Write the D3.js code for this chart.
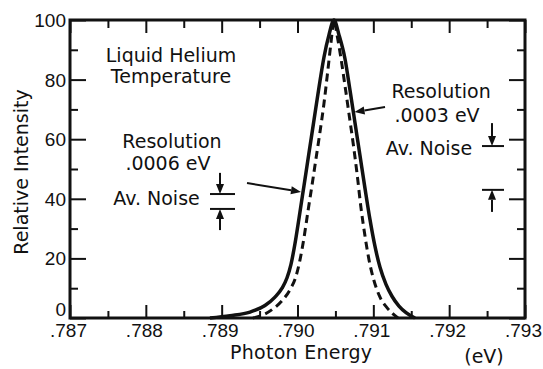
<!DOCTYPE html>
<html><head><meta charset="utf-8">
<script src="https://cdn.jsdelivr.net/npm/d3@7"></script>
<style>body{margin:0;background:#fff}</style>
</head><body>
<svg id="c" width="543" height="369"></svg>
<script>
// ---- data ----
const solidEnergy    = [.788846, .789110, .789374, .789571, .789703, .789796, .789862, .789914, .789967, .790020, .790086, .790152, .790218, .790284, .790349, .790415, .790481, .790547, .790626, .790692, .790758, .790824, .790890, .790956, .791022, .791088, .791167, .791246, .791338, .791431, .791549];
const solidIntensity = [0,       0.8,     2,       4.2,     7,       10,      13.5,    18,      25,      33.5,    44.5,    55.5,    66.5,    77.5,    87.5,    95,      100,     95,      87,      76.5,    65.5,    54.5,    43.5,    33,      24,      17,      11.3,    7.3,     4,       1.8,     0];
const dashedEnergy    = [.789413, .789532, .789664, .789796, .789901, .789980, .790033, .790086, .790139, .790191, .790244, .790297, .790349, .790402, .790442, .790481, .790521, .790574, .790626, .790679, .790732, .790785, .790837, .790890, .790943, .791009, .791088, .791180, .791259, .791325];
const dashedIntensity = [0,       0.9,     2.8,     5.8,     9.5,     14,      19.5,    27,      36,      44.5,    53.5,    62.5,    72,      83.5,    92.5,    100,     95,      87,      78,      68.5,    59,      48.5,    37,      27.5,    19.5,    12.5,    7,       3.5,     1.4,     0];

const xTicks = [.787, .788, .789, .790, .791, .792, .793];
const xTickLabels = [".787", ".788", ".789", ".790", ".791", ".792", ".793"];
const xMinorTicks = [.7875, .7885, .7895, .7905, .7915, .7925];
const yTicks = [0, 20, 40, 60, 80, 100];
const yTickLabels = ["0", "20", "40", "60", "80", "100"];
const yMinorTicks = [10, 30, 50, 70, 90];

const xTitle = "Photon Energy";
const xUnit = "(eV)";
const yTitle = "Relative Intensity";

// annotations in data units: [energy, intensity]
const labels = [
  {t: "Liquid Helium", e: .788332, v: 85.9},
  {t: "Temperature",   e: .788332, v: 78.9},
  {t: "Resolution",    e: .788345, v: 57.0},
  {t: ".0006 eV",      e: .788292, v: 49.7},
  {t: "Av. Noise",     e: .788141, v: 37.9},
  {t: "Resolution",    e: .791893, v: 73.8},
  {t: ".0003 eV",      e: .791840, v: 65.8},
  {t: "Av. Noise",     e: .791734, v: 54.7}
];
const noiseBars = [ // [e0, e1, v]
  [.788846, .789176, 41.6], [.788846, .789176, 36.6],
  [.792433, .792723, 57.7], [.792433, .792723, 43.0]
];
const arrows = [ // [eFrom, vFrom, eTo, vTo]
  [.788978, 48.7, .788978, 41.6],
  [.788978, 29.5, .788978, 36.6],
  [.792565, 65.4, .792565, 57.7],
  [.792565, 35.6, .792565, 43.0],
  [.789334, 45.3, .790046, 42.3],
  [.791154, 70.8, .790752, 69.1]
];

// ---- chart ----
const font = "'DejaVu Sans', sans-serif";
const tickFont = "'Liberation Sans', Arial, sans-serif";
const svg = d3.select("#c");
const L = 70, R = 525, T = 20, B = 318;
const x = d3.scaleLinear().domain([.787, .793]).range([L, R]);
const y = d3.scaleLinear().domain([0, 100]).range([B, T]);

function styleAxis(g) {
  g.select(".domain").remove();
  g.selectAll(".tick line").attr("stroke", "#111").attr("stroke-width", 2);
  g.selectAll("text").attr("fill", "#111").attr("font-family", tickFont);
}

// bottom
svg.append("g").attr("transform", `translate(0,${B})`)
  .call(d3.axisBottom(x).tickValues(xTicks).tickSize(-13).tickPadding(6)
    .tickFormat((d, i) => xTickLabels[i]))
  .call(styleAxis).selectAll("text").attr("font-size", 19).attr("dx", -2);
svg.append("g").attr("transform", `translate(0,${B})`)
  .call(d3.axisBottom(x).tickValues(xMinorTicks).tickSize(-7).tickFormat(""))
  .call(styleAxis);
// top
svg.append("g").attr("transform", `translate(0,${T})`)
  .call(d3.axisTop(x).tickValues(xTicks).tickSize(-13).tickFormat(""))
  .call(styleAxis);
svg.append("g").attr("transform", `translate(0,${T})`)
  .call(d3.axisTop(x).tickValues(xMinorTicks).tickSize(-8).tickFormat(""))
  .call(styleAxis);
// left
svg.append("g").attr("transform", `translate(${L},0)`)
  .call(d3.axisLeft(y).tickValues(yTicks).tickSize(-16).tickPadding(4)
    .tickFormat((d, i) => yTickLabels[i]))
  .call(styleAxis).selectAll("text").attr("font-size", 19)
  .attr("dy", d => d === 0 ? "-0.12em" : "0.34em");
svg.append("g").attr("transform", `translate(${L},0)`)
  .call(d3.axisLeft(y).tickValues(yMinorTicks).tickSize(-8).tickFormat(""))
  .call(styleAxis);
// right
svg.append("g").attr("transform", `translate(${R},0)`)
  .call(d3.axisRight(y).tickValues(yTicks).tickSize(-16).tickFormat(""))
  .call(styleAxis);
svg.append("g").attr("transform", `translate(${R},0)`)
  .call(d3.axisRight(y).tickValues(yMinorTicks).tickSize(-8).tickFormat(""))
  .call(styleAxis);

// frame
svg.append("rect").attr("x", L).attr("y", T).attr("width", R - L).attr("height", B - T)
  .attr("fill", "none").attr("stroke", "#111").attr("stroke-width", 3);

// curves
const line = d3.line().x(d => x(d[0])).y(d => y(d[1])).curve(d3.curveMonotoneX);
svg.append("path").datum(dashedEnergy.map((e, i) => [e, dashedIntensity[i]]))
  .attr("d", line).attr("fill", "none").attr("stroke", "#111")
  .attr("stroke-width", 3).attr("stroke-dasharray", "8,5");
svg.append("path").datum(solidEnergy.map((e, i) => [e, solidIntensity[i]]))
  .attr("d", line).attr("fill", "none").attr("stroke", "#111")
  .attr("stroke-width", 3.5);

// titles
svg.append("text").attr("x", 230).attr("y", 359).attr("font-family", font)
  .attr("font-size", 19).attr("fill", "#111").attr("textLength", 142)
  .text(xTitle);
svg.append("text").attr("x", 484).attr("y", 363).attr("text-anchor", "middle")
  .attr("font-family", font).attr("font-size", 19).attr("fill", "#111").text(xUnit);
svg.append("text").attr("transform", "translate(28,172) rotate(-90)")
  .attr("text-anchor", "middle").attr("font-family", font).attr("font-size", 19)
  .attr("fill", "#111").text(yTitle);

// annotations
svg.selectAll("text.ann").data(labels).join("text").attr("class", "ann")
  .attr("x", d => x(d.e)).attr("y", d => y(d.v)).attr("text-anchor", "middle")
  .attr("font-family", font).attr("font-size", 19).attr("fill", "#111")
  .text(d => d.t);

svg.selectAll("line.bar").data(noiseBars).join("line").attr("class", "bar")
  .attr("x1", d => x(d[0])).attr("x2", d => x(d[1]))
  .attr("y1", d => y(d[2])).attr("y2", d => y(d[2]))
  .attr("stroke", "#111").attr("stroke-width", 2);

arrows.forEach(a => {
  const x1 = x(a[0]), y1 = y(a[1]), x2 = x(a[2]), y2 = y(a[3]);
  const ang = Math.atan2(y2 - y1, x2 - x1);
  const hl = 10, hw = 4;
  const bx = x2 - hl * Math.cos(ang), by = y2 - hl * Math.sin(ang);
  svg.append("line").attr("x1", x1).attr("y1", y1).attr("x2", bx).attr("y2", by)
    .attr("stroke", "#111").attr("stroke-width", 2);
  const px = -Math.sin(ang) * hw, py = Math.cos(ang) * hw;
  svg.append("path")
    .attr("d", `M${x2},${y2}L${bx + px},${by + py}L${bx - px},${by - py}Z`)
    .attr("fill", "#111");
});
</script>
</body></html>
